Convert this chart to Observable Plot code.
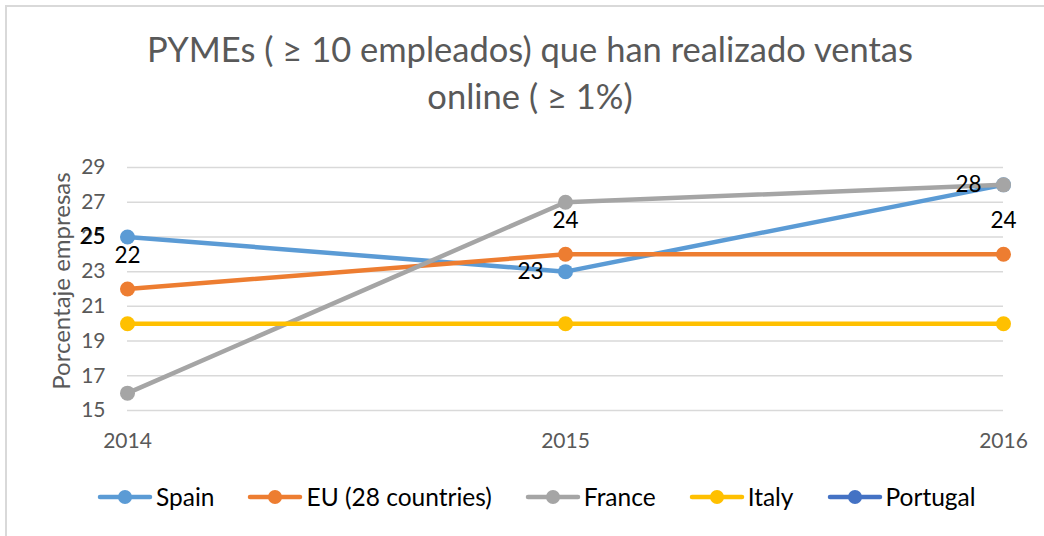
<!DOCTYPE html>
<html>
<head>
<meta charset="utf-8">
<script src="https://cdn.jsdelivr.net/npm/d3@7"></script>
<script src="https://cdn.jsdelivr.net/npm/@observablehq/plot@0.6"></script>
<style>
  html, body { margin: 0; padding: 0; background: #fff; }
  #wrap { position: relative; width: 1044px; height: 536px; overflow: hidden; font-family: Lato, "Open Sans", sans-serif; }
  #border { position: absolute; left: 5px; top: 5px; width: 1100px; height: 600px; border-left: 2px solid #d9d9d9; border-top: 2px solid #d9d9d9; }
  #title { position: absolute; left: 0; top: 25px; width: 1060px; text-align: center; font-size: 34.5px; line-height: 47px; color: #595959; font-weight: 400; }
  #ylab { position: absolute; left: 60px; top: 281px; transform: translate(-50%, -50%) rotate(-90deg); white-space: nowrap; font-size: 24px; color: #595959; }
  #chart { position: absolute; left: 0; top: 0; }
  #legend { position: absolute; left: 97px; top: 482px; display: flex; align-items: center; font-size: 24.5px; color: #000; }
  .item { display: flex; align-items: center; margin-right: 33px; }
  .item svg { margin-right: 3px; }
</style>
</head>
<body>
<div id="wrap">
  <div id="border"></div>
  <div id="chart"></div>
  <div id="title"></div>
  <div id="ylab"></div>
  <div id="legend"></div>
</div>
<script>
const titleLines = ["PYMEs ( ≥ 10 empleados) que han realizado ventas", "online ( ≥ 1%)"];
const yLabel = "Porcentaje empresas";
const years = [2014, 2015, 2016];
const yTicks = [15, 17, 19, 21, 23, 25, 27, 29];
const seriesNames = ["Spain", "EU (28 countries)", "France", "Italy", "Portugal"];
const seriesColors = ["#5b9bd5", "#ed7d31", "#a5a5a5", "#ffc000", "#4472c4"];
const spain = [25, 23, 28];
const eu = [22, 24, 24];
const france = [16, 27, 28];
const italy = [20, 20, 20];
const portugal = [null, null, null];

const valuesBySeries = [spain, eu, france, italy, portugal];
const rows = [];
seriesNames.forEach((s, i) => {
  years.forEach((yr, j) => {
    const v = valuesBySeries[i][j];
    if (v != null) rows.push({series: s, year: yr, value: v});
  });
});
const spainRows = rows.filter(d => d.series === "Spain");
const euRows = rows.filter(d => d.series === "EU (28 countries)");

document.getElementById("title").innerHTML = titleLines.join("<br>");
document.getElementById("ylab").textContent = yLabel;

const seriesMarks = [];
seriesNames.forEach(s => {
  const r = rows.filter(d => d.series === s);
  seriesMarks.push(Plot.line(r, {x: "year", y: "value", stroke: "series", strokeWidth: 4.5, strokeLinecap: "round", strokeLinejoin: "round"}));
  seriesMarks.push(Plot.dot(r, {x: "year", y: "value", fill: "series", r: 7.5, stroke: "none"}));
});

const chart = Plot.plot({
  width: 1044,
  height: 536,
  marginLeft: 127,
  marginRight: 41,
  marginTop: 167,
  marginBottom: 126,
  style: {fontFamily: "Lato, 'Open Sans', sans-serif", fontSize: "21px", color: "#595959", background: "transparent", overflow: "visible"},
  x: {domain: [2014, 2016], label: null},
  y: {domain: [15, 29], label: null},
  color: {domain: seriesNames, range: seriesColors},
  marks: [
    Plot.gridY(yTicks, {stroke: "#d9d9d9", strokeOpacity: 1, strokeWidth: 1.5}),
    Plot.axisY(yTicks, {tickSize: 0, tickPadding: 22, label: null, fill: "#595959", fontSize: 21}),
    Plot.axisX(years, {tickSize: 0, tickPadding: 23, tickFormat: d => String(d), label: null, fill: "#595959", fontSize: 21}),
    ...seriesMarks,
    Plot.text(spainRows, {x: "year", y: "value", text: d => String(d.value), textAnchor: "end", dx: -22, fill: "#000", fontSize: 22.5}),
    Plot.text(euRows, {x: "year", y: "value", text: d => String(d.value), textAnchor: "middle", dy: -33, fill: "#000", fontSize: 22.5})
  ]
});
document.getElementById("chart").appendChild(chart);

const legend = document.getElementById("legend");
seriesNames.forEach((s, i) => {
  const item = document.createElement("div");
  item.className = "item";
  item.innerHTML = `<svg width="56" height="16"><line x1="3" y1="8" x2="53" y2="8" stroke="${seriesColors[i]}" stroke-width="4.5" stroke-linecap="round"/><circle cx="28" cy="8" r="7" fill="${seriesColors[i]}"/></svg><span>${s}</span>`;
  legend.appendChild(item);
});
</script>
</body>
</html>
